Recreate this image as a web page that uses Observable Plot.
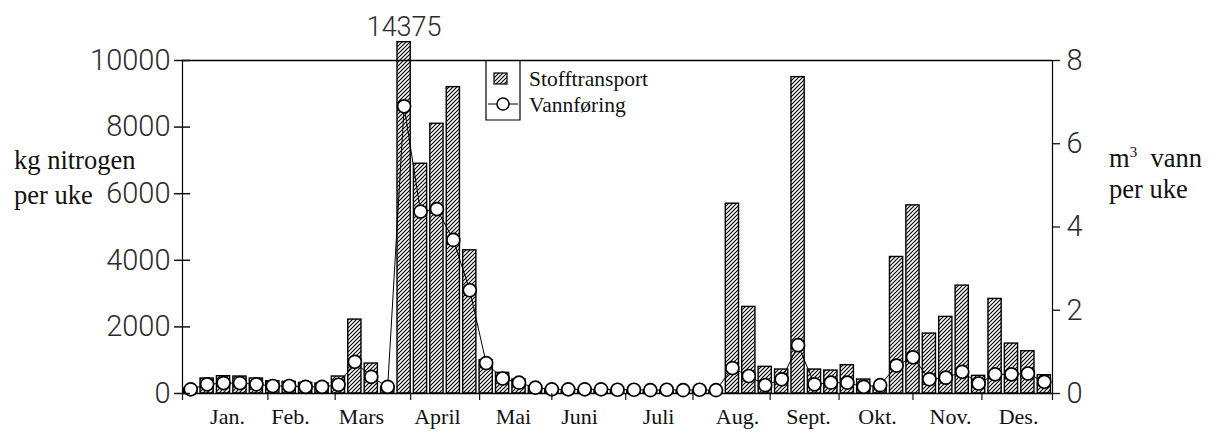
<!DOCTYPE html>
<html>
<head>
<meta charset="utf-8">
<script src="https://cdn.jsdelivr.net/npm/d3@7"></script>
<script src="https://cdn.jsdelivr.net/npm/@observablehq/plot@0.6"></script>
<style>
  body { margin: 0; background: #fff; }
  #wrap { position: relative; width: 1216px; height: 446px; overflow: hidden; }
  .lab { position: absolute; font-family: "Liberation Serif", "Times New Roman", serif; font-size: 26.5px; line-height: 35px; color: #111; white-space: nowrap; }
  .lab sup { font-size: 15px; line-height: 0; position: relative; top: -10px; vertical-align: baseline; }
  #overlay { position: absolute; left: 0; top: 0; pointer-events: none; }
</style>
</head>
<body>
<div id="wrap">
  <div id="chart"></div>
  <div class="lab" style="left:14px;top:143px">kg nitrogen<br>per uke</div>
  <div class="lab" style="left:1109px;top:143px;line-height:31px;">m<sup>3</sup>&nbsp; vann<br>per uke</div>
  <svg id="overlay" width="1216" height="446">
    <defs>
      <pattern id="hatch" patternUnits="userSpaceOnUse" width="4" height="4">
        <path d="M-1,1 l2,-2 M0,4 l4,-4 M3,5 l2,-2" stroke="#000" stroke-width="1.15"/>
      </pattern>
    </defs>
    <path d="M486,60 V120 H520 V60" fill="none" stroke="#000" stroke-width="1.2"/>
    <rect x="494" y="73" width="13" height="11" fill="url(#hatch)" stroke="#000" stroke-width="1.2"/>
    <line x1="488" x2="518" y1="104" y2="104" stroke="#000" stroke-width="1"/>
    <circle cx="503" cy="104" r="6" fill="#fff" stroke="#000" stroke-width="1.5"/>
    <text x="529" y="79" dominant-baseline="central" font-family="Liberation Serif, Times New Roman, serif" font-size="21.5" fill="#111">Stofftransport</text>
    <text x="529" y="105" dominant-baseline="central" font-family="Liberation Serif, Times New Roman, serif" font-size="21.5" fill="#111">Vannføring</text>
  </svg>
</div>
<script>
// Weekly nitrogen transport (kg per week), weeks 1..53
const weeks = d3.range(1, 54);
const nitrogen = [
  150, 450, 520, 510, 450, 370, 350, 320, 300, 510,
  2220, 900, 200, 14375, 6900, 8100, 9200, 4300, 1000, 620,
  420, 200, 120, 100, 100, 100, 100, 80, 80, 80,
  80, 80, 60, 5700, 2600, 800, 720, 9500, 720, 690,
  850, 420, 200, 4100, 5650, 1800, 2300, 3240, 530, 2840,
  1500, 1270, 550
];
// Weekly water discharge (right axis units)
const water = [
  0.10, 0.22, 0.25, 0.25, 0.22, 0.18, 0.18, 0.16, 0.16, 0.21,
  0.76, 0.40, 0.16, 6.90, 4.37, 4.43, 3.69, 2.48, 0.73, 0.36,
  0.26, 0.14, 0.10, 0.10, 0.10, 0.10, 0.09, 0.09, 0.08, 0.09,
  0.08, 0.09, 0.08, 0.61, 0.42, 0.20, 0.34, 1.16, 0.22, 0.26,
  0.26, 0.16, 0.20, 0.67, 0.87, 0.34, 0.38, 0.52, 0.24, 0.46,
  0.46, 0.48, 0.28
];
const monthNames = ["Jan.", "Feb.", "Mars", "April", "Mai", "Juni", "Juli", "Aug.", "Sept.", "Okt.", "Nov.", "Des."];
const monthLabelPos = [2.74, 6.58, 10.9, 15.53, 20.16, 24.19, 29.0, 33.81, 38.14, 42.34, 46.79, 50.93];
const monthTickPos = [0, 5.2, 9.3, 13.9, 18.1, 22.5, 27.0, 31.1, 35.8, 40.0, 44.5, 48.7, 53];
const leftTicks = [0, 2000, 4000, 6000, 8000, 10000];
const rightTicks = [0, 2, 4, 6, 8];

const KG_PER_UNIT = 10000 / 8;   // right axis 8 aligns with left axis 10000
const BAR_CAP = 10550;           // broken (off-scale) bar drawn up to here

const data = weeks.map((w, i) => ({week: w, n: nitrogen[i], q: water[i]}));
const months = monthNames.map((name, i) => ({name, pos: monthLabelPos[i]}));

const numFont = {fontFamily: "Roboto, 'Liberation Sans', sans-serif", fontWeight: 300, fontSize: 29, fill: "#2a2a2a"};

const chart = Plot.plot({
  width: 1216,
  height: 446,
  marginLeft: 182,
  marginRight: 164,
  marginTop: 60,
  marginBottom: 53,
  x: {domain: [0, 53], label: null},
  y: {domain: [0, 10000], label: null},
  style: {background: "transparent", overflow: "visible", color: "#111"},
  marks: [
    Plot.rect(data, {
      x1: d => d.week - 1, x2: d => d.week,
      y1: d => 0, y2: d => Math.min(d.n, BAR_CAP),
      insetLeft: 1.6, insetRight: 1.6,
      fill: "url(#hatch)", stroke: "#000", strokeWidth: 1.4
    }),
    Plot.ruleY([0], {stroke: "#000", strokeWidth: 1.5}),
    Plot.ruleY([10000], {stroke: "#000", strokeWidth: 1.5}),
    Plot.ruleX([0, 53], {stroke: "#000", strokeWidth: 1.2}),
    Plot.line(data, {x: d => d.week - 0.5, y: d => d.q * KG_PER_UNIT, stroke: "#000", strokeWidth: 1}),
    Plot.dot(data, {x: d => d.week - 0.5, y: d => d.q * KG_PER_UNIT, r: 6.5, fill: "#fff", stroke: "#000", strokeWidth: 1.7}),
    Plot.text(data.filter(d => d.n > 10000), {
      x: d => d.week - 0.5, y: d => BAR_CAP, text: d => String(d.n), dy: -15, ...numFont, fontSize: 27
    }),
    // left axis: outward ticks + labels, plus inward tick halves
    Plot.axisY({anchor: "left", label: null, ticks: leftTicks, tickSize: 8, tickPadding: 4, tickFormat: d => String(d), strokeWidth: 1.5, ...numFont}),
    Plot.axisY({anchor: "left", label: null, ticks: leftTicks, tickSize: 8, dx: 8, tickFormat: () => "", strokeWidth: 1.5}),
    // right axis (water), same pixel scale: 8 units = 10000 kg
    Plot.axisY({anchor: "right", label: null, ticks: rightTicks.map(v => v * KG_PER_UNIT), tickSize: 7, tickPadding: 7, tickFormat: d => String(d / KG_PER_UNIT), strokeWidth: 1.3, ...numFont}),
    Plot.axisX({anchor: "bottom", label: null, ticks: monthTickPos, tickSize: 7, tickFormat: () => "", strokeWidth: 1.2}),
    Plot.text(months, {
      x: "pos", text: "name", frameAnchor: "bottom", dy: 30,
      fontFamily: "'Liberation Serif', 'Times New Roman', serif", fontSize: 22, fill: "#111"
    })
  ]
});
document.getElementById("chart").appendChild(chart);
</script>
</body>
</html>
